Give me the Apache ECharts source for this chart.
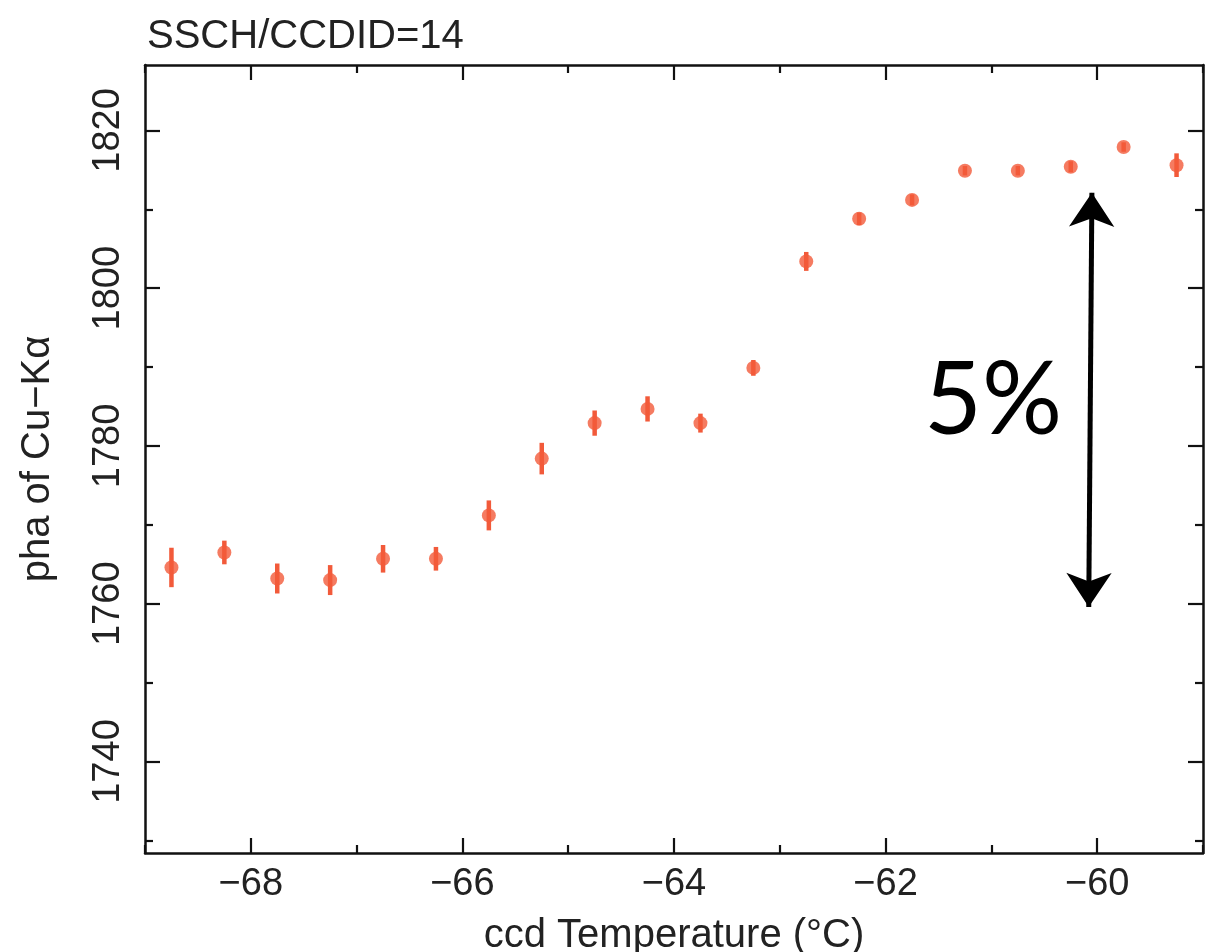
<!DOCTYPE html>
<html>
<head>
<meta charset="utf-8">
<script src="https://cdn.jsdelivr.net/npm/echarts@6/dist/echarts.min.js"></script>
<style>
html,body{margin:0;padding:0;background:#fff;}
#main{width:1206px;height:952px;}
</style>
</head>
<body>
<div id="main"></div>
<script>
// ---- data ----
const temperatures = [-68.75,-68.25,-67.75,-67.25,-66.75,-66.25,-65.75,-65.25,-64.75,-64.25,
                      -63.75,-63.25,-62.75,-62.25,-61.75,-61.25,-60.75,-60.25,-59.75,-59.25];
const phaValues    = [1764.6,1766.5,1763.2,1763.0,1765.7,1765.7,1771.2,1778.4,1782.9,1784.7,
                      1782.9,1789.9,1803.4,1808.8,1811.2,1814.9,1814.9,1815.4,1817.9,1815.6];
const phaErrors    = [2.5,1.5,1.9,1.9,1.75,1.5,1.9,2.0,1.6,1.6,
                      1.2,1.0,1.2,0.8,0.7,0.6,0.6,0.7,0.6,1.5];
const xMajorTicks  = [-68,-66,-64,-62,-60];
const xMinorTicks  = [-69,-67,-65,-63,-61,-59];
const yMajorTicks  = [1740,1760,1780,1800,1820];
const yMinorTicks  = [1730,1750,1770,1790,1810];
const arrowStart   = [-60.05, 1812.1];
const arrowEnd     = [-60.08, 1759.6];
const annotationText = '5%';

const points = temperatures.map((t,i)=>[t, phaValues[i]]);
const bars = temperatures.map((t,i)=>[t, phaValues[i], phaErrors[i]]);

const X_MIN=-69, X_MAX=-59, Y_MIN=1728.4, Y_MAX=1828.3;
const FONT='"Liberation Sans", Arial, Helvetica, sans-serif';
const TXT='#222';
const AXIS_LINE={show:true,onZero:false,lineStyle:{color:'#111',width:2.5}};

function xAxisDef(pos, ticks, len, withLabel, withLine){
  const a = {
    type:'value', min:X_MIN, max:X_MAX, position:pos,
    axisLine: withLine ? AXIS_LINE : {show:false},
    axisTick:{show:true, inside:true, length:len, customValues:ticks, lineStyle:{color:'#111',width:2.2}},
    axisLabel: withLabel ? {show:true, customValues:ticks, margin:13, fontFamily:FONT, fontSize:38, color:TXT,
                            formatter:v=>String(v).replace('-','\u2212')} : {show:false},
    splitLine:{show:false}
  };
  if(withLabel){
    a.name='ccd Temperature (\u00b0C)';
    a.nameLocation='middle';
    a.nameGap=63;
    a.nameTextStyle={fontFamily:FONT,fontSize:40,color:TXT};
  }
  return a;
}
function yAxisDef(pos, ticks, len, withLabel, withLine){
  const a = {
    type:'value', min:Y_MIN, max:Y_MAX, position:pos,
    axisLine: withLine ? AXIS_LINE : {show:false},
    axisTick:{show:true, inside:true, length:len, customValues:ticks, lineStyle:{color:'#111',width:2.2}},
    axisLabel: withLabel ? {show:true, customValues:ticks, rotate:90, margin:17, fontFamily:FONT, fontSize:38, color:TXT,
                            verticalAlign:'bottom', formatter:v=>String(v)} : {show:false},
    splitLine:{show:false}
  };
  if(withLabel){
    a.name='pha of Cu\u2212K\u03b1';
    a.nameLocation='middle';
    a.nameGap=87;
    a.nameTextStyle={fontFamily:FONT,fontSize:40,color:TXT};
  }
  return a;
}

const chart = echarts.init(document.getElementById('main'), null, {renderer:'canvas'});
const option = {
  backgroundColor:'#fff',
  animation:false,
  title:{text:'SSCH/CCDID=14', left:142, top:12,
         textStyle:{fontFamily:FONT,fontSize:40,fontWeight:'normal',color:TXT}},
  grid:{left:145, top:65, right:3, bottom:99, containLabel:false, outerBoundsMode:'none'},
  xAxis:[
    xAxisDef('bottom', xMajorTicks, 15, true, true),
    xAxisDef('bottom', xMinorTicks, 8, false, false),
    xAxisDef('top', xMajorTicks, 15, false, true),
    xAxisDef('top', xMinorTicks, 8, false, false)
  ],
  yAxis:[
    yAxisDef('left', yMajorTicks, 15, true, true),
    yAxisDef('left', yMinorTicks, 8, false, false),
    yAxisDef('right', yMajorTicks, 15, false, true),
    yAxisDef('right', yMinorTicks, 8, false, false)
  ],
  series:[
    {
      type:'custom', xAxisIndex:0, yAxisIndex:0, data:bars, silent:true,
      renderItem:function(params, api){
        const x=api.value(0), y=api.value(1), e=api.value(2);
        const p1=api.coord([x, y-e]), p2=api.coord([x, y+e]);
        return {type:'line', shape:{x1:p1[0],y1:p1[1],x2:p2[0],y2:p2[1]},
                style:{stroke:'#f25a3a', lineWidth:4.5}};
      }
    },
    {
      type:'scatter', xAxisIndex:0, yAxisIndex:0, data:points,
      symbol:'circle', symbolSize:14, itemStyle:{color:'#f25a3a'},
      markLine:{
        silent:true, animation:false,
        symbol:['arrow','arrow'], symbolSize:[34,34],
        lineStyle:{color:'#000', width:5, type:'solid'},
        label:{show:false},
        data:[[{coord:arrowStart},{coord:arrowEnd}]]
      }
    }
  ],
  graphic:[
    {type:'text', left:924, top:352, silent:true,
     style:{text:annotationText, fontFamily:'Lato, "Open Sans", sans-serif', fontSize:100, fill:'#000'}}
  ]
};
chart.setOption(option);
</script>
</body>
</html>
